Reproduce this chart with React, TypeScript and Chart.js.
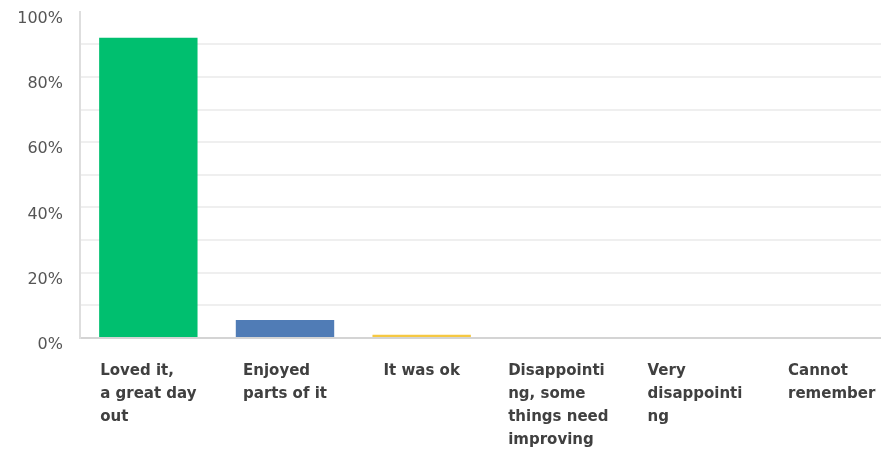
import React, { useEffect, useRef } from "react";
import { Chart, registerables } from "chart.js";

Chart.register(...registerables);

const categories: string[][] = [
  ["Loved it,", "a great day", "out"],
  ["Enjoyed", "parts of it"],
  ["It was ok"],
  ["Disappointi", "ng, some", "things need", "improving"],
  ["Very", "disappointi", "ng"],
  ["Cannot", "remember"],
];
const values = [92, 5.5, 1, 0, 0, 0];
const barColors = ["#00bf6f", "#507cb6", "#f5c842", "#00bf6f", "#00bf6f", "#00bf6f"];
const yTicks = [0, 20, 40, 60, 80, 100];

const LABEL_FONT = "bold 15px 'DejaVu Sans'";

const labelPlugin = {
  id: "blockLabels",
  afterDraw(chart: any) {
    const ctx = chart.ctx;
    const xs = chart.scales.x;
    ctx.save();
    ctx.font = LABEL_FONT;
    ctx.fillStyle = "#404040";
    ctx.textAlign = "left";
    ctx.textBaseline = "alphabetic";
    categories.forEach((lines, i) => {
      const cx = xs.getPixelForTick(i);
      const w = Math.max(...lines.map((l) => ctx.measureText(l).width));
      const x0 = cx - w / 2;
      lines.forEach((l, j) => {
        ctx.fillText(l, x0, 375 + j * 23);
      });
    });
    ctx.restore();
  },
};

export default function App() {
  const ref = useRef<HTMLCanvasElement>(null);
  useEffect(() => {
    if (!ref.current) return;
    const chart = new Chart(ref.current, {
      type: "bar",
      data: {
        labels: categories.map((c) => c.join(" ")),
        datasets: [
          {
            data: values,
            backgroundColor: barColors,
            categoryPercentage: 1,
            barPercentage: 0.72,
          },
        ],
      },
      plugins: [labelPlugin],
      options: {
        animation: false,
        responsive: false,
        maintainAspectRatio: false,
        layout: { padding: { top: 0, bottom: 111, left: 0, right: 0 } },
        plugins: { legend: { display: false }, tooltip: { enabled: false } },
        scales: {
          x: {
            grid: { display: false, drawTicks: false },
            border: { display: false },
            ticks: { display: false },
          },
          y: {
            min: 0,
            max: 100,
            afterFit: (s: any) => {
              s.width = 80;
            },
            ticks: {
              stepSize: 10,
              padding: 2,
              labelOffset: 7,
              color: "#555",
              font: { family: "'DejaVu Sans'", size: 16 },
              callback: (v: any) => (yTicks.includes(Number(v)) ? v + "%" : ""),
            },
            grid: {
              drawTicks: true,
              tickLength: 15,
              tickColor: "rgba(0,0,0,0)",
              lineWidth: 2,
              color: (c: any) =>
                c.tick && c.tick.value === 0
                  ? "#d4d4d4"
                  : c.tick && c.tick.value === 100
                  ? "rgba(0,0,0,0)"
                  : "#efefef",
            },
            border: { display: true, color: "#dedede", width: 2 },
          },
        },
      },
    });
    return () => chart.destroy();
  }, []);
  return (
    <div
      style={{
        position: "fixed",
        left: 0,
        top: 0,
        width: 881,
        height: 449,
        overflow: "hidden",
        background: "#fff",
      }}
    >
      <canvas ref={ref} width={900} height={449} style={{ display: "block" }} />
    </div>
  );
}
